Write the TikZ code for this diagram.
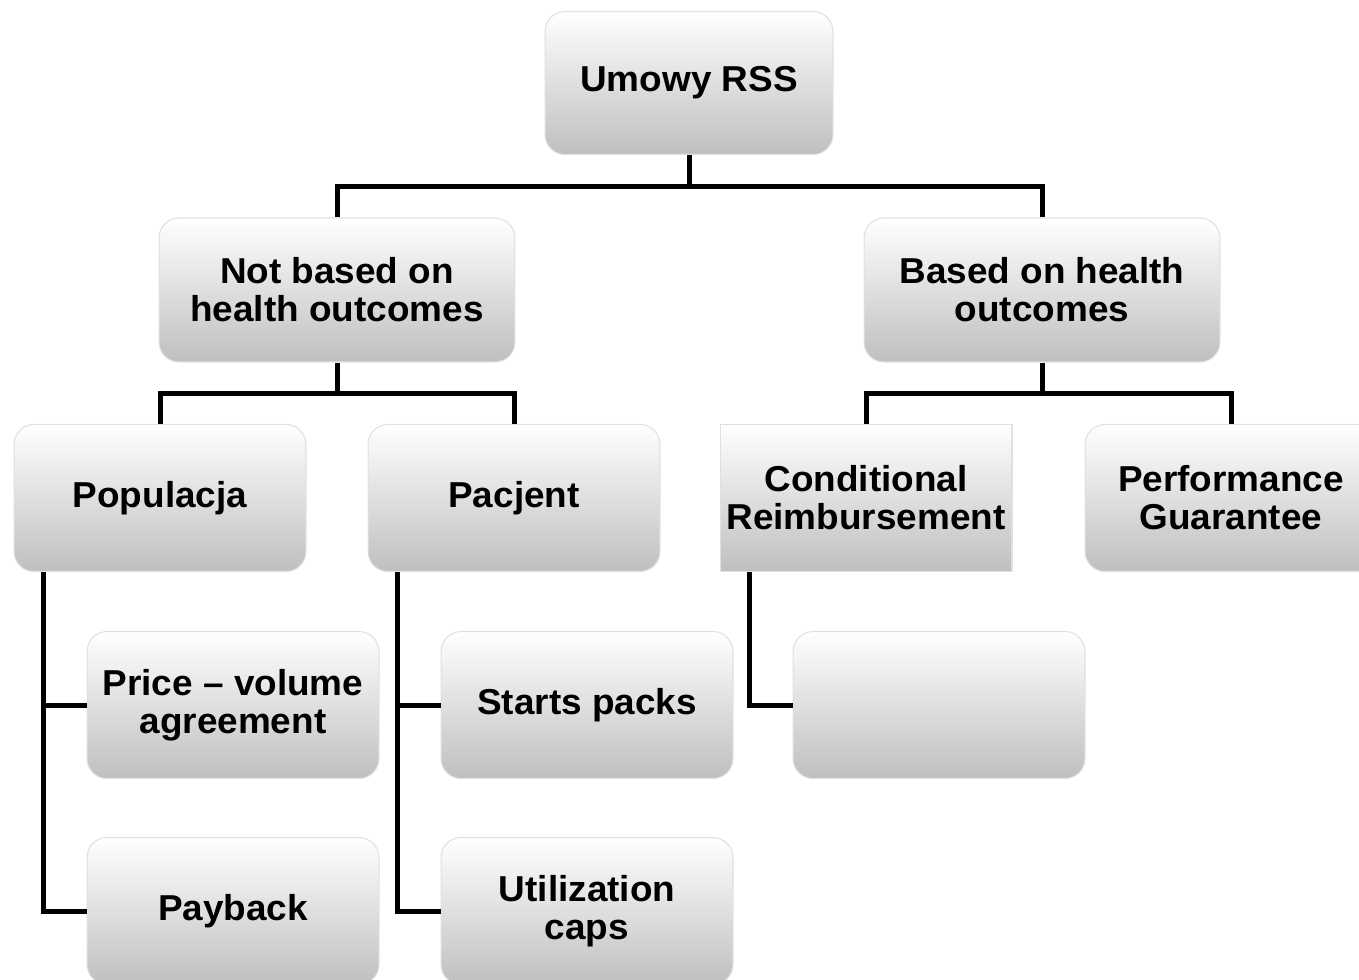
\documentclass[tikz,border=0pt]{standalone}
\usepackage{fontspec}
\setmainfont{Liberation Sans}[FakeStretch=1.025]
\usepackage{tikz}
\usetikzlibrary{shapes,arrows,positioning,calc}

\begin{document}
\begin{tikzpicture}[
    x=0.02cm, y=-0.02cm,
    box/.style={rectangle, rounded corners=0.4cm, draw=black!12, line width=0.6pt,
        top color=white, bottom color=black!25, align=center,
        font=\fontsize{20.5}{21.6}\selectfont\bfseries, inner sep=0pt},
    wide/.style={box, minimum width=7.12cm, minimum height=2.88cm},
    leaf/.style={box, minimum width=5.84cm, minimum height=2.94cm},
    conn/.style={line width=0.1cm, black}
]
    \useasboundingbox (0,0) rectangle (1359,980);

    \node[box, minimum width=5.76cm, minimum height=2.86cm] (rss) at (689,83) {Umowy RSS};
    \node[wide] (notbased) at (337,290) {Not based on\\health outcomes};
    \node[wide] (based) at (1042,290) {Based on health\\outcomes};

    \node[leaf] (popul) at (160,498) {Populacja};
    \node[leaf] (pacj) at (514,498) {Pacjent};
    \node[leaf, rounded corners=0pt] (condre) at (866,498) {Conditional\\Reimbursement};
    \node[leaf] (perfg) at (1231,498) {Performance\\Guarantee};

    \node[leaf] (pricevol) at (233,705) {Price -- volume\\agreement};
    \node[leaf] (payback) at (233,911) {Payback};
    \node[leaf] (starts) at (587,705) {Starts packs};
    \node[leaf] (utilcaps) at (587,911) {Utilization\\caps};
    \node[leaf] (empty) at (939,705) {};

    % tree connectors
    \draw[conn] (rss.south) -- ++(0,31) -| (notbased.north);
    \draw[conn] (rss.south) -- ++(0,31) -| (based.north);
    \draw[conn] (notbased.south) -- ++(0,31) -| (popul.north);
    \draw[conn] (notbased.south) -- ++(0,31) -| (pacj.north);
    \draw[conn] (based.south) -- ++(0,31) -| (condre.north);
    \draw[conn] (based.south) -- ++(0,31) -| (perfg.north);

    % side connectors
    \draw[conn] ([xshift=0.6cm]popul.south west) |- (pricevol.west);
    \draw[conn] ([xshift=0.6cm]popul.south west) |- (payback.west);
    \draw[conn] ([xshift=0.6cm]pacj.south west) |- (starts.west);
    \draw[conn] ([xshift=0.6cm]pacj.south west) |- (utilcaps.west);
    \draw[conn] ([xshift=0.6cm]condre.south west) |- (empty.west);
\end{tikzpicture}
\end{document}
